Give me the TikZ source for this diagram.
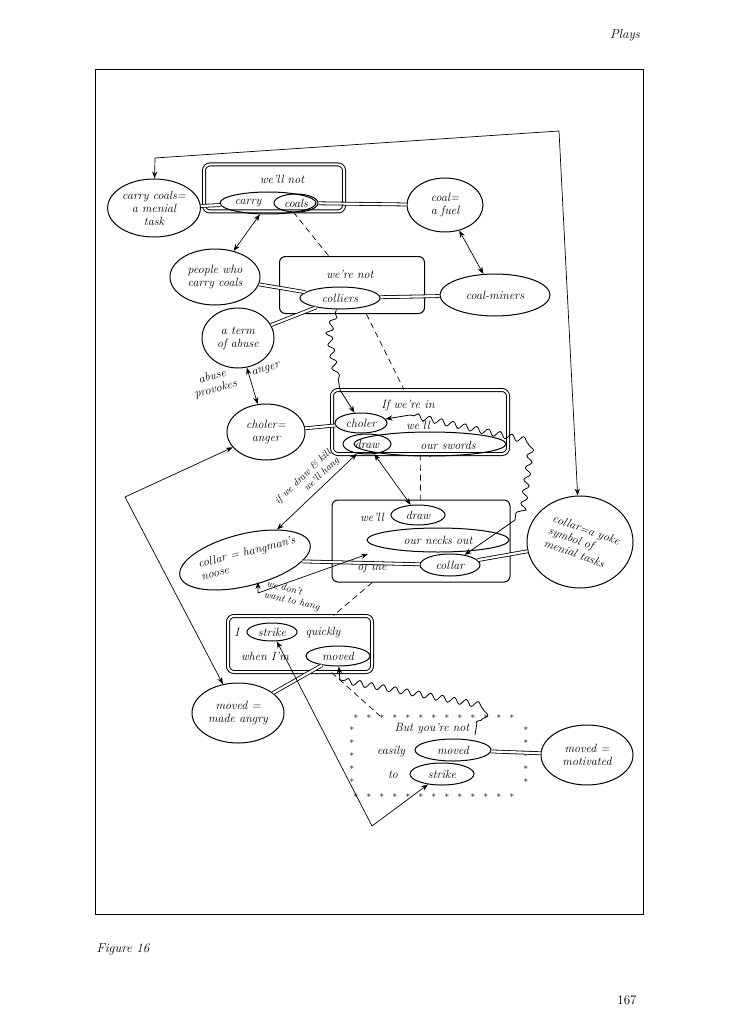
\documentclass[tikz,border=0pt]{standalone}
\usetikzlibrary{shapes.geometric,decorations.pathmorphing,arrows.meta}
\begin{document}
\begin{tikzpicture}[x=1pt,y=-1pt,line width=1pt,
  every node/.style={font=\fontsize{12}{13}\selectfont\itshape,inner sep=1pt},
  ell/.style={draw,ellipse,align=center},
  box/.style={draw,rounded corners=6pt},
  dbox/.style={draw,rounded corners=6pt,double,double distance=2pt},
  dl/.style={double,double distance=2.2pt,line width=0.8pt},
  arr/.style={-{Stealth[length=7pt]}},
  barr/.style={{Stealth[length=7pt]}-{Stealth[length=7pt]}},
  dsh/.style={dash pattern=on 6pt off 4pt,line width=0.7pt},
  wav/.style={decorate,decoration={snake,amplitude=3pt,segment length=12pt,pre length=4pt,post length=6pt}}]
\useasboundingbox (0,0) rectangle (738,1024);
\node[font=\fontsize{13}{14}\selectfont\itshape] (plays) at (625,35) {Plays};
\node[font=\fontsize{13}{14}\selectfont\itshape,anchor=west] (fig) at (95,949) {Figure 16};
\node[font=\fontsize{13}{14}\selectfont] (pg) at (627,1000) {167};
\node[draw,minimum width=548pt,minimum height=844pt,line width=1pt] (frame) at (369,492) {};

% box 1
\node[dbox,minimum width=140pt,minimum height=47pt] (b1) at (274,188) {};
\node (t1) at (282,179) {we'll not};
\node[ell,minimum width=96pt,minimum height=22pt] (cc) at (268,203) {};
\node (t1b) at (248,203) {carry};
\node[ell,minimum width=44pt,minimum height=18pt] (coals) at (296,203) {coals};
\node[ell,minimum width=90pt,minimum height=58pt] (menial) at (154,208) {carry coals=\\a menial\\task};
\node[ell,minimum width=76pt,minimum height=54pt] (fuel) at (445,205) {coal=\\a fuel};

% box 2
\node[box,minimum width=145pt,minimum height=57pt] (b2) at (352,285) {};
\node (t2) at (350,274) {we're not};
\node[ell,minimum width=80pt,minimum height=22pt] (coll) at (340,298) {colliers};
\node[ell,minimum width=90pt,minimum height=56pt] (people) at (215,277) {people who\\carry coals};
\node[ell,minimum width=110pt,minimum height=42pt] (miners) at (495,295) {coal-miners};
\node[ell,minimum width=72pt,minimum height=60pt] (abuse) at (238,338) {a term\\of abuse};
\node[rotate=15,align=center] (prov) at (214,383) {abuse\\provokes};
\node[rotate=15] (ang) at (266,370) {anger};
\node[ell,minimum width=78pt,minimum height=56pt] (cholan) at (266,432) {choler=\\anger};

% box 3
\node[dbox,minimum width=176pt,minimum height=64pt] (b3) at (420,422) {};
\node (t3) at (408,405) {If we're in};
\node[ell,minimum width=52pt,minimum height=20pt] (choler) at (361,423) {choler};
\node (t3b) at (418,425) {we'll};
\node[ell,minimum width=152pt,minimum height=24pt] (swords) at (430,444) {};
\node[ell,minimum width=48pt,minimum height=20pt] (draw3) at (367,444) {draw};
\node (t3c) at (448,445) {our swords};

% box 4
\node[box,minimum width=178pt,minimum height=82pt] (b4) at (421,541) {};
\node (t4) at (372,517) {we'll};
\node[ell,minimum width=54pt,minimum height=20pt] (draw4) at (418,515) {draw};
\node[ell,minimum width=142pt,minimum height=24pt] (necks) at (438,540) {our necks out};
\node (t4b) at (372,567) {of the};
\node[ell,minimum width=60pt,minimum height=22pt] (collar) at (450,565) {collar};
\node[ell,rotate=14,minimum width=134pt,minimum height=52pt] (noose) at (245,560) {};
\node[rotate=14,align=left] (noosetxt) at (248,558) {collar = hangman's\\noose};
\node[ell,minimum width=106pt,minimum height=92pt] (yoke) at (580,542) {};
\node[rotate=-20,align=left] (yoketxt) at (582,542) {collar=a yoke\\symbol of\\menial tasks};

% box 5
\node[dbox,minimum width=144pt,minimum height=56pt] (b5) at (300,644) {};
\node (t5) at (237,632) {I};
\node[ell,minimum width=50pt,minimum height=18pt] (strike5) at (272,632) {strike};
\node (t5b) at (323,633) {quickly};
\node (t5c) at (265,656) {when I'm};
\node[ell,minimum width=64pt,minimum height=20pt] (moved5) at (338,656) {moved};
\node[ell,minimum width=92pt,minimum height=60pt] (angry) at (238,713) {moved =\\made angry};

% dotted box
\foreach \x in {356,369,...,522} {\node[font=\small] at (\x,718) {*}; \node[font=\small] at (\x,797) {*};}
\foreach \y in {730,743,...,786} {\node[font=\small] at (352,\y) {*}; \node[font=\small] at (526,\y) {*};}
\coordinate (dotbox) at (380,716);
\node (t6) at (432,729) {But you're not};
\node (t6b) at (391,752) {easily};
\node[ell,minimum width=76pt,minimum height=22pt] (moved6) at (453,750) {moved};
\node (t6c) at (393,775) {to};
\node[ell,minimum width=64pt,minimum height=22pt] (strike6) at (442,774) {strike};
\node[ell,minimum width=92pt,minimum height=60pt] (motiv) at (587,755) {moved =\\motivated};

% double connectors
\draw[dl] (cc) -- (menial);
\draw[dl] (coals) -- (fuel);
\draw[dl] (coll) -- (people);
\draw[dl] (coll) -- (miners);
\draw[dl] (coll) -- (abuse);
\draw[dl] (choler) -- (cholan);
\draw[dl] (collar) -- (noose);
\draw[dl] (collar) -- (yoke);
\draw[dl] (moved5) -- (angry);
\draw[dl] (moved6) -- (motiv);

% arrows
\draw[barr,line width=0.7pt] (cc) -- (people);
\draw[barr,line width=0.7pt] (fuel) -- (miners);
\draw[barr,line width=0.7pt] (abuse) -- (cholan);
\draw[barr,line width=0.7pt] (draw3) -- (draw4);
\coordinate (c1) at (155,158);
\coordinate (c2) at (559,131);
\draw[barr,line width=0.7pt] (menial) -- (c1) -- (c2) -- (yoke);
\coordinate (c3) at (125,497);
\draw[barr,line width=0.7pt] (cholan) -- (c3) -- (angry);
\draw[barr,line width=0.7pt] (noose) -- node[sloped,above=3pt,align=center,font=\fontsize{10}{11}\selectfont\itshape] {if we draw \& kill\\\hspace{3em}we'll hang} (draw3);
\coordinate (h0) at (258,582);
\coordinate (h1) at (258,593);
\coordinate (h2) at (368,554);
\draw[barr,line width=0.7pt] (h0) -- (h1) -- (h2);
\node[rotate=-13,align=left,font=\fontsize{10}{11}\selectfont\itshape] (hang) at (293,596) {we don't\\want to hang};
\coordinate (s1) at (372,826);
\draw[barr,line width=0.7pt] (strike5) -- (s1) -- (strike6);

% dashed
\draw[dsh] (b1) -- (b2);
\draw[dsh] (b2) -- (b3);
\draw[dsh] (b3) -- (b4);
\draw[dsh] (b4) -- (b5);
\draw[dsh] (b5) -- (dotbox);

% wavy
\coordinate (w1) at (330,330);
\coordinate (w2) at (340,390);
\draw[wav,line width=0.8pt] (coll) -- (w1) -- (w2);
\draw[arr,line width=0.8pt] (w2) -- (choler);
\coordinate (w3) at (410,415);
\coordinate (w4) at (525,440);
\coordinate (w5) at (515,520);
\draw[wav,line width=0.8pt] (w3) -- (w4) -- (w5);
\draw[arr,line width=0.8pt] (w3) -- (choler);
\draw[arr,line width=0.8pt] (w5) -- (collar);
\coordinate (w6) at (340,680);
\coordinate (w7) at (480,705);
\coordinate (w8) at (475,735);
\draw[arr,line width=0.8pt] (w6) -- (moved5);
\draw[wav,line width=0.8pt] (w6) -- (w7) -- (w8);
\end{tikzpicture}
\end{document}
